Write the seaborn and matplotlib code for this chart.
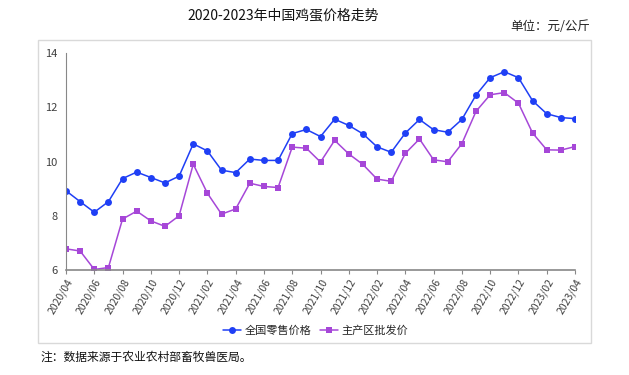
import pandas as pd
import seaborn as sns
import numpy as np
import matplotlib.pyplot as plt
from matplotlib.patches import Rectangle

months = pd.period_range("2020-04", "2023-04", freq="M").strftime("%Y/%m").tolist()

retail = [8.92, 8.52, 8.13, 8.52, 9.37, 9.61, 9.41, 9.21, 9.46, 10.65, 10.39, 9.68, 9.59,
          10.09, 10.04, 10.04, 11.03, 11.18, 10.92, 11.56, 11.33, 11.02, 10.54, 10.34,
          11.05, 11.55, 11.17, 11.08, 11.55, 12.45, 13.09, 13.31, 13.09, 12.24, 11.76,
          11.62, 11.58]
wholesale = [6.78, 6.70, 6.02, 6.09, 7.88, 8.17, 7.81, 7.61, 8.00, 9.90, 8.83, 8.06, 8.25,
             9.20, 9.08, 9.04, 10.53, 10.49, 9.98, 10.78, 10.28, 9.89, 9.35, 9.27,
             10.30, 10.83, 10.06, 9.99, 10.66, 11.85, 12.46, 12.54, 12.15, 11.05, 10.43,
             10.42, 10.55]

names = ["全国零售价格", "主产区批发价"]

df = pd.DataFrame({
    "idx": list(range(len(months))) * 2,
    "price": retail + wholesale,
    "series": [names[0]] * len(months) + [names[1]] * len(months),
})

sns.set_style("white")
plt.rcParams["font.family"] = ["Noto Sans CJK SC", "DejaVu Sans"]

fig = plt.figure(figsize=(6.29, 3.75), dpi=100)
ax = fig.add_axes([66 / 629, 1 - 270 / 375, (575 - 66) / 629, (270 - 53) / 375])

g = sns.lineplot(data=df, x="idx", y="price", hue="series", style="series",
                 palette=["#1f3ff5", "#a647d8"], markers=["o", "s"], dashes=False,
                 markersize=5, linewidth=1.1, markeredgewidth=0, ax=ax)

ax.set_xlim(0, len(months) - 1)
ax.set_ylim(6, 14)
ax.set_yticks([6, 8, 10, 12, 14])
ax.set_xticks(range(0, len(months), 2))
ax.set_xticklabels(months[::2], rotation=60, ha="right", rotation_mode="anchor",
                   fontsize=7.5, color="#404040")
ax.tick_params(axis="y", labelsize=8, colors="#404040", length=0, pad=6)
ax.tick_params(axis="x", length=3, color="#888888", direction="out", bottom=True, pad=2)
ax.set_xlabel("")
ax.set_ylabel("")
for s in ["top", "right"]:
    ax.spines[s].set_visible(False)
ax.spines["left"].set_color("#888888")
ax.spines["bottom"].set_color("#888888")
ax.spines["bottom"].set_linewidth(1.2)

ax.legend(loc="center", bbox_to_anchor=(0.49, -0.28), ncol=2, frameon=False,
          fontsize=8, handlelength=1.6, columnspacing=0.8, handletextpad=0.3)

fig.patches.append(Rectangle((38 / 629, 1 - 343 / 375), (591 - 38) / 629, (343 - 40) / 375,
                             transform=fig.transFigure, fill=False,
                             edgecolor="#d9d9d9", linewidth=1))

fig.text(283 / 629, 1 - 15 / 375, "2020-2023年中国鸡蛋价格走势", ha="center", va="center",
         fontsize=10, color="#111111")
fig.text(590 / 629, 1 - 27 / 375, "单位：元/公斤", ha="right", va="center",
         fontsize=9, color="#222222")
fig.text(40 / 629, 1 - 357 / 375, "注：数据来源于农业农村部畜牧兽医局。", ha="left", va="center",
         fontsize=8.5, color="#111111")

plt.savefig("out.png", dpi=100)
